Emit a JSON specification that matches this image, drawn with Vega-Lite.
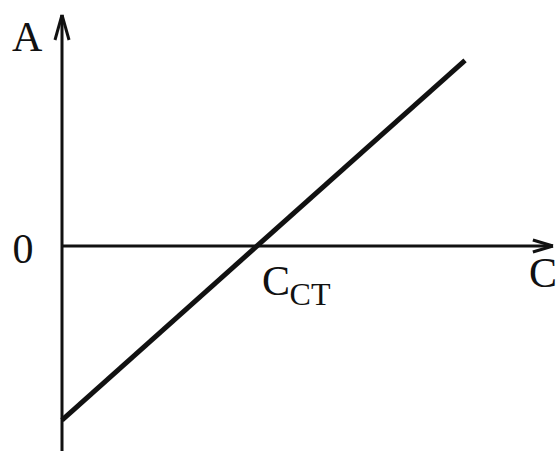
{
  "$schema": "https://vega.github.io/schema/vega-lite/v6.json",
  "width": 559,
  "height": 451,
  "padding": 0,
  "autosize": {"type": "none"},
  "background": "white",
  "config": {"view": {"stroke": null}},
  "datasets": {
    "axes": [
      {"c": 0, "A": -1.178, "c2": 0, "A2": 1.328},
      {"c": 0, "A": 0, "c2": 2.518, "A2": 0}
    ],
    "arrows": [
      {"c": -0.036, "A": 1.184, "c2": 0, "A2": 1.328},
      {"c": 0.036, "A": 1.184, "c2": 0, "A2": 1.328},
      {"c": 2.415, "A": 0.0345, "c2": 2.518, "A2": 0},
      {"c": 2.415, "A": -0.0345, "c2": 2.518, "A2": 0}
    ],
    "line": [
      {"c": 0, "A": -1},
      {"c": 2.067, "A": 1.067}
    ],
    "labels": [
      {"c": -0.179, "A": 1.121, "label": "A"},
      {"c": -0.2, "A": -0.098, "label": "0"},
      {"c": 2.467, "A": -0.236, "label": "C"},
      {"c": 1.097, "A": -0.282, "label": "C"}
    ],
    "sub": [
      {"c": 1.272, "A": -0.339, "label": "CT"}
    ]
  },
  "encoding": {
    "x": {"field": "c", "type": "quantitative", "axis": null, "scale": {"domain": [-0.318, 2.549], "nice": false, "zero": false}},
    "y": {"field": "A", "type": "quantitative", "axis": null, "scale": {"domain": [-1.178, 1.414], "nice": false, "zero": false}}
  },
  "layer": [
    {
      "data": {"name": "axes"},
      "mark": {"type": "rule", "color": "#111111", "strokeWidth": 3},
      "encoding": {"x2": {"field": "c2"}, "y2": {"field": "A2"}}
    },
    {
      "data": {"name": "arrows"},
      "mark": {"type": "rule", "color": "#111111", "strokeWidth": 3},
      "encoding": {"x2": {"field": "c2"}, "y2": {"field": "A2"}}
    },
    {
      "data": {"name": "line"},
      "mark": {"type": "line", "color": "#111111", "strokeWidth": 5},
      "encoding": {}
    },
    {
      "data": {"name": "labels"},
      "mark": {"type": "text", "font": "Liberation Serif", "fontSize": 42, "align": "center", "baseline": "alphabetic", "color": "#111111"},
      "encoding": {"text": {"field": "label"}}
    },
    {
      "data": {"name": "sub"},
      "mark": {"type": "text", "font": "Liberation Serif", "fontSize": 32, "align": "center", "baseline": "alphabetic", "color": "#111111"},
      "encoding": {"text": {"field": "label"}}
    }
  ]
}
